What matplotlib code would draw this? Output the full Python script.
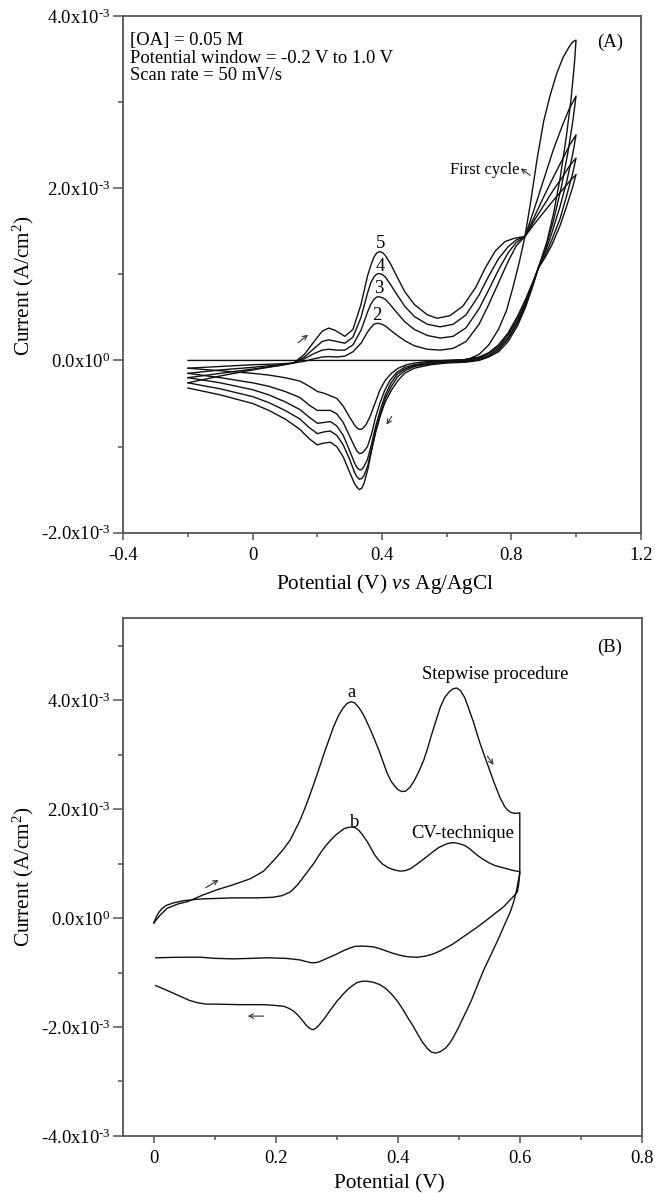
import numpy as np
import matplotlib.pyplot as plt

plt.rcParams['font.family'] = ['Liberation Serif', 'DejaVu Serif']
plt.rcParams['mathtext.fontset'] = 'custom'
plt.rcParams['mathtext.rm'] = 'Liberation Serif'
plt.rcParams['mathtext.it'] = 'Liberation Serif:italic'
plt.rcParams['mathtext.bf'] = 'Liberation Serif:bold'

# ---- panel A: five CV cycles, (potential V, current in 1e-3 A/cm2) ----
cyc1_fwd = [(-0.2, 0), (0.0, 0), (0.2, 0), (0.4, 0), (0.6, 0), (0.64, 0.0), (0.67, 0.02), (0.70, 0.07),
            (0.73, 0.18), (0.76, 0.36), (0.785, 0.58), (0.805, 0.85), (0.825, 1.15), (0.842, 1.44),
            (0.86, 1.85), (0.88, 2.35), (0.9, 2.78), (0.92, 3.08), (0.94, 3.33), (0.96, 3.52),
            (0.98, 3.65), (0.99, 3.70), (1.0, 3.72)]
cyc1_rev = [(1.0, 3.72), (0.995, 3.45), (0.985, 3.05), (0.97, 2.6), (0.95, 2.1), (0.93, 1.7), (0.91, 1.38),
            (0.883, 1.07), (0.865, 0.9), (0.845, 0.72), (0.82, 0.52), (0.79, 0.32), (0.76, 0.18), (0.73, 0.09),
            (0.70, 0.04), (0.66, 0.01), (0.6, 0.0), (0.548, -0.01), (0.5, -0.03), (0.476, -0.05), (0.45, -0.09),
            (0.43, -0.146), (0.41, -0.23), (0.394, -0.34), (0.38, -0.48), (0.363, -0.65), (0.35, -0.75),
            (0.34, -0.79), (0.335, -0.80), (0.33, -0.80), (0.323, -0.785), (0.315, -0.75), (0.3, -0.66),
            (0.28, -0.53), (0.26, -0.44), (0.24, -0.41), (0.22, -0.38), (0.2, -0.36), (0.175, -0.30),
            (0.146, -0.24), (0.1, -0.20), (0.05, -0.17), (0.0, -0.15), (-0.1, -0.12), (-0.2, -0.09)]
cyc2_fwd = [(-0.2, -0.09), (-0.1, -0.07), (0.0, -0.05), (0.08, -0.04), (0.126, -0.03), (0.16, -0.01),
            (0.19, 0.02), (0.215, 0.04), (0.235, 0.045), (0.26, 0.04), (0.285, 0.05), (0.31, 0.1), (0.335, 0.2),
            (0.355, 0.33), (0.365, 0.38), (0.375, 0.42), (0.383, 0.43), (0.39, 0.43), (0.4, 0.42), (0.41, 0.40),
            (0.44, 0.31), (0.47, 0.23), (0.5, 0.17), (0.54, 0.13), (0.58, 0.12), (0.62, 0.14), (0.66, 0.22),
            (0.7, 0.42), (0.73, 0.65), (0.76, 0.9), (0.79, 1.15), (0.815, 1.33), (0.842, 1.44), (0.87, 1.75),
            (0.9, 2.1), (0.93, 2.45), (0.96, 2.75), (0.98, 2.93), (1.0, 3.07)]
cyc2_rev = [(1.0, 3.07), (0.99, 2.78), (0.975, 2.42), (0.955, 2.02), (0.93, 1.62), (0.905, 1.3), (0.883, 1.07),
            (0.865, 0.88), (0.845, 0.69), (0.82, 0.49), (0.79, 0.3), (0.76, 0.16), (0.73, 0.08), (0.70, 0.03),
            (0.66, 0.0), (0.6, -0.01), (0.55, -0.02), (0.5, -0.05), (0.47, -0.08), (0.445, -0.14), (0.425, -0.23),
            (0.408, -0.35), (0.393, -0.5), (0.38, -0.66), (0.368, -0.85), (0.355, -1.0), (0.343, -1.06),
            (0.336, -1.08), (0.33, -1.08), (0.322, -1.05), (0.315, -1.0), (0.3, -0.88), (0.28, -0.72),
            (0.26, -0.62), (0.24, -0.58), (0.22, -0.58), (0.2, -0.58), (0.175, -0.52), (0.146, -0.43),
            (0.1, -0.36), (0.05, -0.30), (0.0, -0.26), (-0.1, -0.20), (-0.2, -0.15)]
cyc3_fwd = [(-0.2, -0.15), (-0.1, -0.11), (0.0, -0.08), (0.08, -0.05), (0.126, -0.03), (0.16, 0.02),
            (0.19, 0.08), (0.215, 0.12), (0.235, 0.13), (0.26, 0.12), (0.285, 0.12), (0.31, 0.18), (0.335, 0.35),
            (0.355, 0.56), (0.365, 0.65), (0.375, 0.71), (0.383, 0.735), (0.39, 0.74), (0.4, 0.73), (0.41, 0.71),
            (0.425, 0.65), (0.44, 0.58), (0.47, 0.45), (0.5, 0.36), (0.54, 0.29), (0.58, 0.26), (0.62, 0.28),
            (0.66, 0.38), (0.7, 0.6), (0.73, 0.82), (0.76, 1.05), (0.79, 1.25), (0.815, 1.37), (0.842, 1.44),
            (0.87, 1.66), (0.9, 1.9), (0.93, 2.13), (0.96, 2.35), (0.98, 2.5), (1.0, 2.62)]
cyc3_rev = [(1.0, 2.62), (0.99, 2.4), (0.97, 2.06), (0.95, 1.78), (0.925, 1.48), (0.905, 1.26), (0.883, 1.07),
            (0.865, 0.87), (0.845, 0.67), (0.82, 0.46), (0.79, 0.27), (0.76, 0.14), (0.73, 0.06), (0.70, 0.02),
            (0.66, -0.01), (0.6, -0.02), (0.55, -0.03), (0.5, -0.06), (0.47, -0.1), (0.447, -0.16),
            (0.428, -0.26), (0.41, -0.4), (0.395, -0.57), (0.38, -0.77), (0.367, -0.98), (0.355, -1.15),
            (0.343, -1.24), (0.336, -1.27), (0.33, -1.27), (0.322, -1.24), (0.315, -1.19), (0.3, -1.05),
            (0.28, -0.87), (0.26, -0.76), (0.24, -0.71), (0.22, -0.72), (0.2, -0.73), (0.175, -0.66),
            (0.146, -0.57), (0.1, -0.48), (0.05, -0.40), (0.0, -0.34), (-0.1, -0.26), (-0.2, -0.20)]
cyc4_fwd = [(-0.2, -0.20), (-0.1, -0.15), (0.0, -0.10), (0.08, -0.06), (0.126, -0.03), (0.16, 0.04),
            (0.19, 0.14), (0.215, 0.22), (0.235, 0.24), (0.26, 0.22), (0.285, 0.2), (0.31, 0.27), (0.335, 0.5),
            (0.355, 0.78), (0.365, 0.9), (0.375, 0.97), (0.383, 1.0), (0.39, 1.01), (0.4, 1.0), (0.41, 0.97),
            (0.425, 0.89), (0.44, 0.8), (0.47, 0.63), (0.5, 0.51), (0.54, 0.42), (0.58, 0.39), (0.62, 0.42),
            (0.66, 0.53), (0.7, 0.76), (0.73, 0.98), (0.76, 1.18), (0.79, 1.32), (0.815, 1.4), (0.842, 1.44),
            (0.87, 1.62), (0.9, 1.8), (0.93, 1.98), (0.96, 2.14), (0.98, 2.26), (1.0, 2.35)]
cyc4_rev = [(1.0, 2.35), (0.99, 2.18), (0.97, 1.9), (0.95, 1.64), (0.925, 1.4), (0.905, 1.22), (0.883, 1.07),
            (0.865, 0.86), (0.845, 0.65), (0.82, 0.44), (0.79, 0.25), (0.76, 0.12), (0.73, 0.05), (0.70, 0.01),
            (0.66, -0.01), (0.6, -0.02), (0.55, -0.04), (0.5, -0.07), (0.47, -0.12), (0.448, -0.19),
            (0.429, -0.3), (0.41, -0.44), (0.395, -0.62), (0.38, -0.82), (0.368, -1.03), (0.356, -1.22),
            (0.344, -1.34), (0.337, -1.37), (0.33, -1.38), (0.322, -1.35), (0.315, -1.3), (0.3, -1.15),
            (0.28, -0.98), (0.26, -0.87), (0.24, -0.82), (0.22, -0.83), (0.2, -0.85), (0.175, -0.78),
            (0.146, -0.68), (0.1, -0.58), (0.05, -0.49), (0.0, -0.42), (-0.1, -0.33), (-0.2, -0.26)]
cyc5_fwd = [(-0.2, -0.26), (-0.1, -0.18), (0.0, -0.11), (0.08, -0.06), (0.126, -0.03), (0.16, 0.07),
            (0.19, 0.22), (0.215, 0.34), (0.235, 0.376), (0.255, 0.35), (0.285, 0.28), (0.31, 0.36),
            (0.335, 0.65), (0.355, 0.98), (0.365, 1.1), (0.375, 1.2), (0.384, 1.25), (0.393, 1.265),
            (0.402, 1.25), (0.41, 1.22), (0.425, 1.13), (0.44, 1.02), (0.47, 0.8), (0.5, 0.65), (0.54, 0.53),
            (0.57, 0.49), (0.61, 0.52), (0.65, 0.63), (0.69, 0.85), (0.72, 1.08), (0.75, 1.27), (0.78, 1.38),
            (0.81, 1.42), (0.842, 1.44), (0.87, 1.58), (0.9, 1.72), (0.93, 1.86), (0.96, 1.99), (0.98, 2.08),
            (1.0, 2.16)]
cyc5_rev = [(1.0, 2.16), (0.99, 2.02), (0.97, 1.78), (0.95, 1.56), (0.925, 1.34), (0.905, 1.2), (0.883, 1.07),
            (0.865, 0.85), (0.845, 0.63), (0.82, 0.41), (0.79, 0.22), (0.76, 0.1), (0.73, 0.04), (0.70, 0.0),
            (0.66, -0.02), (0.6, -0.03), (0.55, -0.05), (0.5, -0.09), (0.471, -0.146), (0.45, -0.23),
            (0.43, -0.34), (0.41, -0.48), (0.394, -0.65), (0.38, -0.84), (0.368, -1.04), (0.357, -1.25),
            (0.345, -1.42), (0.338, -1.48), (0.33, -1.50), (0.322, -1.47), (0.315, -1.43), (0.3, -1.30),
            (0.28, -1.12), (0.26, -1.0), (0.24, -0.95), (0.22, -0.96), (0.2, -0.98), (0.175, -0.91),
            (0.146, -0.80), (0.1, -0.68), (0.05, -0.58), (0.0, -0.50), (-0.1, -0.40), (-0.2, -0.32)]

cycles = [(cyc1_fwd, cyc1_rev), (cyc2_fwd, cyc2_rev), (cyc3_fwd, cyc3_rev),
          (cyc4_fwd, cyc4_rev), (cyc5_fwd, cyc5_rev)]
peak_labels = ['2', '3', '4', '5']
peak_label_pos = [(0.383, 0.52), (0.39, 0.83), (0.394, 1.09), (0.395, 1.355)]

# ---- panel B: stepwise procedure (a) and CV technique (b) ----
step_fwd = [(0.0, -0.09), (0.005, -0.02), (0.01, 0.05), (0.022, 0.18), (0.04, 0.26), (0.055, 0.3),
            (0.08, 0.42), (0.104, 0.52), (0.13, 0.61), (0.158, 0.72), (0.18, 0.86), (0.2, 1.1), (0.213, 1.27),
            (0.224, 1.44), (0.24, 1.8), (0.25, 2.08), (0.262, 2.45), (0.272, 2.78), (0.28, 3.05), (0.288, 3.3),
            (0.295, 3.52), (0.303, 3.72), (0.31, 3.85), (0.316, 3.93), (0.3225, 3.97), (0.329, 3.95),
            (0.335, 3.88), (0.34, 3.8), (0.345, 3.7), (0.355, 3.46), (0.362, 3.27), (0.37, 3.05), (0.376, 2.86),
            (0.3825, 2.66), (0.389, 2.51), (0.395, 2.42), (0.401, 2.35), (0.407, 2.32), (0.413, 2.33),
            (0.42, 2.4), (0.427, 2.52), (0.435, 2.7), (0.4426, 2.9), (0.449, 3.12), (0.455, 3.35), (0.462, 3.6),
            (0.47, 3.88), (0.477, 4.05), (0.485, 4.16), (0.491, 4.21), (0.497, 4.22), (0.503, 4.17),
            (0.51, 4.04), (0.517, 3.82), (0.5246, 3.58), (0.53, 3.38), (0.535, 3.2), (0.5465, 2.84),
            (0.558, 2.48), (0.568, 2.2), (0.575, 2.05), (0.58, 1.98), (0.585, 1.94), (0.592, 1.92), (0.6, 1.93)]
step_rev = [(0.6, 0.83), (0.597, 0.65), (0.594, 0.47), (0.59, 0.3), (0.585, 0.13), (0.58, 0.0), (0.574, -0.15),
            (0.565, -0.38), (0.555, -0.62), (0.541, -0.95), (0.53, -1.25), (0.52, -1.53), (0.508, -1.81),
            (0.5, -2.0), (0.492, -2.17), (0.485, -2.3), (0.478, -2.39), (0.47, -2.45), (0.462, -2.48),
            (0.455, -2.46), (0.448, -2.39), (0.44, -2.27), (0.432, -2.12), (0.425, -1.98), (0.417, -1.84),
            (0.408, -1.67), (0.399, -1.52), (0.39, -1.4), (0.38, -1.29), (0.37, -1.22), (0.36, -1.18),
            (0.35, -1.16), (0.342, -1.16), (0.334, -1.18), (0.327, -1.23), (0.319, -1.3), (0.311, -1.39),
            (0.3, -1.53), (0.29, -1.68), (0.28, -1.84), (0.272, -1.95), (0.266, -2.02), (0.261, -2.05),
            (0.256, -2.03), (0.25, -1.97), (0.243, -1.87), (0.236, -1.78), (0.228, -1.7), (0.22, -1.65),
            (0.213, -1.62), (0.195, -1.6), (0.18, -1.59), (0.14, -1.59), (0.1, -1.58), (0.085, -1.58),
            (0.07, -1.55), (0.058, -1.51), (0.044, -1.44), (0.032, -1.38), (0.02, -1.32), (0.003, -1.24)]
cv_fwd = [(0.0, -0.09), (0.004, 0.02), (0.008, 0.1), (0.013, 0.17), (0.02, 0.23), (0.033, 0.28), (0.05, 0.32),
          (0.077, 0.35), (0.131, 0.37), (0.17, 0.37), (0.195, 0.38), (0.21, 0.41), (0.224, 0.48), (0.235, 0.6),
          (0.25, 0.82), (0.262, 1.0), (0.273, 1.19), (0.282, 1.33), (0.29, 1.43), (0.298, 1.52), (0.306, 1.59),
          (0.312, 1.64), (0.318, 1.66), (0.324, 1.67), (0.33, 1.66), (0.336, 1.61), (0.342, 1.53), (0.35, 1.4),
          (0.356, 1.28), (0.362, 1.16), (0.368, 1.07), (0.375, 0.99), (0.385, 0.92), (0.395, 0.88),
          (0.404, 0.86), (0.412, 0.87), (0.42, 0.9), (0.428, 0.96), (0.435, 1.02), (0.448, 1.13),
          (0.458, 1.22), (0.468, 1.3), (0.48, 1.36), (0.487, 1.38), (0.494, 1.38), (0.502, 1.36),
          (0.51, 1.33), (0.518, 1.27), (0.525, 1.2), (0.533, 1.13), (0.541, 1.07), (0.55, 1.01), (0.56, 0.96),
          (0.57, 0.93), (0.58, 0.9), (0.59, 0.87), (0.6, 0.85)]
cv_rev = [(0.6, 0.83), (0.599, 0.7), (0.598, 0.6), (0.596, 0.48), (0.59, 0.4), (0.583, 0.32), (0.574, 0.21),
          (0.56, 0.09), (0.5465, -0.03), (0.53, -0.17), (0.508, -0.34), (0.49, -0.48), (0.47, -0.6),
          (0.458, -0.66), (0.445, -0.7), (0.432, -0.72), (0.42, -0.715), (0.41, -0.7), (0.399, -0.67),
          (0.39, -0.64), (0.38, -0.6), (0.37, -0.56), (0.36, -0.53), (0.35, -0.52), (0.34, -0.515),
          (0.33, -0.52), (0.322, -0.55), (0.315, -0.58), (0.307, -0.62), (0.3, -0.66), (0.29, -0.71),
          (0.28, -0.76), (0.272, -0.8), (0.265, -0.82), (0.258, -0.82), (0.25, -0.8), (0.24, -0.77),
          (0.225, -0.75), (0.215, -0.74), (0.186, -0.73), (0.16, -0.74), (0.131, -0.75), (0.1, -0.74),
          (0.077, -0.72), (0.04, -0.72), (0.003, -0.73)]

HY = '\u2010'  # short hyphen for exponents, as in the original figure
A_yticks = [-2e-3, 0, 2e-3, 4e-3]
A_ylabels = ['-2.0x10$^{%s3}$' % HY, '0.0x10$^{0}$', '2.0x10$^{%s3}$' % HY, '4.0x10$^{%s3}$' % HY]
A_xticks = [-0.4, 0, 0.4, 0.8, 1.2]
A_xlabels = ['-0.4', '0', '0.4', '0.8', '1.2']
B_yticks = [-4e-3, -2e-3, 0, 2e-3, 4e-3]
B_ylabels = ['-4.0x10$^{%s3}$' % HY, '-2.0x10$^{%s3}$' % HY, '0.0x10$^{0}$',
             '2.0x10$^{%s3}$' % HY, '4.0x10$^{%s3}$' % HY]
B_xticks = [0, 0.2, 0.4, 0.6, 0.8]
B_xlabels = ['0', '0.2', '0.4', '0.6', '0.8']

LINE = '#111111'
FRAME = '#555555'
FS = 13.4


def curve(ax, pts, **kw):
    p = np.array(pts, dtype=float)
    ax.plot(p[:, 0], p[:, 1] * 1e-3, color=LINE, lw=1.0, solid_joinstyle='round', **kw)


def arrow(ax, tail, head):
    ax.annotate('', xy=(head[0], head[1] * 1e-3), xytext=(tail[0], tail[1] * 1e-3),
                arrowprops=dict(arrowstyle='->', color='#333333', lw=0.8, shrinkA=0, shrinkB=0,
                                mutation_scale=8))


def style(ax):
    for s in ax.spines.values():
        s.set_linewidth(1.3)
        s.set_color(FRAME)
    ax.tick_params(which='both', direction='out', color=FRAME, width=1.1, labelsize=FS,
                   top=False, right=False)
    ax.tick_params(axis='y', which='major', length=7.2, pad=2)
    ax.tick_params(axis='y', which='minor', length=3.6)
    ax.tick_params(axis='x', which='major', length=5.3, pad=5)
    ax.tick_params(axis='x', which='minor', length=3.2)


fig = plt.figure(figsize=(6.55, 11.93), dpi=100)

# ---------------- panel A ----------------
axA = fig.add_axes([0.1883, 0.5535, 0.7899, 0.4331])
for fwd, rev in cycles:
    curve(axA, fwd + rev)
axA.set_xlim(-0.4, 1.2)
axA.set_ylim(-2e-3, 4e-3)
axA.set_xticks(A_xticks, A_xlabels)
axA.set_yticks(A_yticks, A_ylabels)
axA.set_xticks(np.arange(-0.2, 1.2, 0.4), minor=True)
axA.set_yticks([-1e-3, 1e-3, 3e-3], minor=True)
style(axA)

axA.text(0.013, 0.9439, '[OA] = 0.05 M', transform=axA.transAxes, fontsize=FS, va='baseline')
axA.text(0.013, 0.9084, 'Potential window = -0.2 V to 1.0 V', transform=axA.transAxes, fontsize=FS,
         va='baseline')
axA.text(0.013, 0.8761, 'Scan rate = 50 mV/s', transform=axA.transAxes, fontsize=FS, va='baseline')
axA.text(0.915, 0.9406, '(A)', transform=axA.transAxes, fontsize=FS, va='baseline')
axA.text(0.6314, 0.6942, 'First cycle', transform=axA.transAxes, fontsize=FS - 1.5, va='baseline')
arrow(axA, (0.858, 2.15), (0.829, 2.23))
for lab, (px, py) in zip(peak_labels, peak_label_pos):
    axA.text(px, py * 1e-3, lab, fontsize=FS, ha='center', va='center')
arrow(axA, (0.14, 0.205), (0.171, 0.298))
arrow(axA, (0.43, -0.65), (0.414, -0.746))

# ---------------- panel B ----------------
axB = fig.add_axes([0.1883, 0.0478, 0.7915, 0.4339])
curve(axB, step_fwd + step_rev)
curve(axB, cv_fwd + cv_rev)
axB.set_xlim(-0.05, 0.8)
axB.set_ylim(-4e-3, 5.5e-3)
axB.set_xticks(B_xticks, B_xlabels)
axB.set_yticks(B_yticks, B_ylabels)
axB.set_xticks([0.1, 0.3, 0.5, 0.7], minor=True)
axB.set_yticks([-3e-3, -1e-3, 1e-3, 3e-3, 5e-3], minor=True)
style(axB)

axB.text(0.913, 0.935, '(B)', transform=axB.transAxes, fontsize=FS, va='baseline')
axB.text(0.5756, 0.882, 'Stepwise procedure', transform=axB.transAxes, fontsize=FS, va='baseline')
axB.text(0.5563, 0.575, 'CV-technique', transform=axB.transAxes, fontsize=FS, va='baseline')
axB.text(0.3236, 4.13e-3, 'a', fontsize=FS, ha='center', va='center')
axB.text(0.329, 1.76e-3, 'b', fontsize=FS, ha='center', va='center')
arrow(axB, (0.085, 0.556), (0.106, 0.70))
arrow(axB, (0.547, 2.97), (0.557, 2.81))
arrow(axB, (0.18, -1.80), (0.154, -1.80))

# axis titles
fig.text(0.0351, 0.7603, 'Current (A/cm$^{2}$)', rotation=90, ha='center', va='center', fontsize=15.3)
fig.text(0.5878, 0.5067, 'Potential (V) $\\mathit{vs}$ Ag/AgCl', ha='center', va='baseline', fontsize=15.3)
fig.text(0.0351, 0.2649, 'Current (A/cm$^{2}$)', rotation=90, ha='center', va='center', fontsize=15.3)
fig.text(0.5942, 0.004, 'Potential (V)', ha='center', va='baseline', fontsize=15.3)

fig.savefig('out.png', dpi=100)
